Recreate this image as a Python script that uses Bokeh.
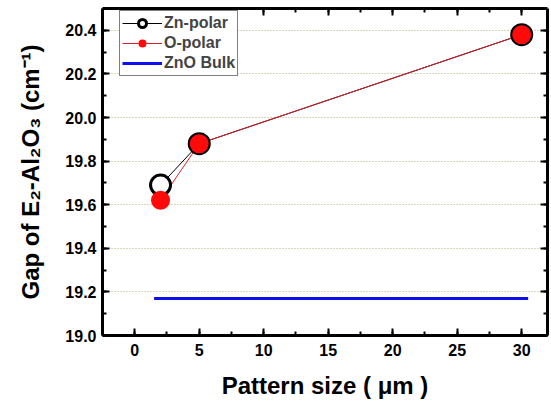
from bokeh.plotting import figure
from bokeh.models import (LinearAxis, SingleIntervalTicker, Range1d,
                          NumeralTickFormatter, CustomJSTickFormatter)
from bokeh.embed import file_html
from bokeh.resources import INLINE

# data
pattern_size = [2, 5, 30]
zn_polar = [19.69, 19.88, 20.38]
o_polar = [19.62, 19.88, 20.38]
bulk_x = [1.5, 30.5]
bulk_y = [19.17, 19.17]

FONT = "Liberation Sans"

p = figure(width=549, height=401, output_backend="svg", toolbar_location=None,
           x_range=Range1d(-2.5, 32.0), y_range=Range1d(19.0, 20.5),
           min_border_left=102, min_border_right=2, min_border_top=8, min_border_bottom=62,
           x_axis_label="Pattern size ( \u03bcm )",
           y_axis_label="Gap of E\u2082-Al\u2082O\u2083 (cm\u207b\u00b9)")
p.outline_line_color = None
p.background_fill_color = "white"
p.border_fill_color = "white"

p.xgrid.visible = False
p.ygrid.grid_line_color = "#b0b070"
p.ygrid.grid_line_dash = "1 2"
p.ygrid.grid_line_width = 1

xt = SingleIntervalTicker(interval=5, num_minor_ticks=2)
yt = SingleIntervalTicker(interval=0.2, num_minor_ticks=2)
p.xaxis.ticker = xt
p.yaxis.ticker = yt
p.ygrid.ticker = yt
p.yaxis.formatter = NumeralTickFormatter(format="0.0")

def style_axis(ax):
    ax.axis_line_width = 3
    ax.axis_line_color = "black"
    ax.major_tick_in = 7
    ax.major_tick_out = 0
    ax.minor_tick_in = 4
    ax.minor_tick_out = 0
    ax.major_tick_line_width = 2
    ax.minor_tick_line_width = 2
    ax.major_label_text_font = FONT
    ax.major_label_text_font_style = "bold"
    ax.major_label_text_font_size = "16px"
    ax.major_label_text_color = "black"
    ax.axis_label_text_font = FONT
    ax.axis_label_text_font_style = "bold"
    ax.axis_label_text_font_size = "24px"
    ax.axis_label_text_color = "black"

style_axis(p.xaxis[0])
style_axis(p.yaxis[0])
p.xaxis[0].major_label_standoff = 8
p.xaxis[0].axis_label_standoff = 13
p.yaxis[0].major_label_standoff = 6
p.yaxis[0].axis_label_standoff = 18

blank = CustomJSTickFormatter(code="return '';")
top = LinearAxis(ticker=SingleIntervalTicker(interval=5, num_minor_ticks=2), formatter=blank)
right = LinearAxis(ticker=SingleIntervalTicker(interval=0.2, num_minor_ticks=2), formatter=blank)
for ax in (top, right):
    style_axis(ax)
    ax.major_label_standoff = 0
p.add_layout(top, "above")
p.add_layout(right, "right")

# series
p.line(pattern_size, zn_polar, line_color="black", line_width=1, legend_label="Zn-polar")
p.line(pattern_size, o_polar, line_color="#d8202a", line_width=1, legend_label="O-polar")
p.scatter(pattern_size, zn_polar, marker="circle", size=20, fill_color="white",
          line_color="black", line_width=3, legend_label="Zn-polar")
p.scatter(pattern_size, o_polar, marker="circle", size=19, fill_color="#ff0a0a",
          line_color=None, legend_label="O-polar")
p.line(bulk_x, bulk_y, line_color="#1010ee", line_width=3, legend_label="ZnO Bulk")

leg = p.legend[0]
leg.location = (17, 259)
leg.border_line_color = "black"
leg.border_line_width = 1
leg.background_fill_alpha = 1
leg.label_text_font = FONT
leg.label_text_font_style = "bold"
leg.label_text_font_size = "16px"
leg.glyph_width = 40
leg.glyph_height = 20
leg.label_height = 20
leg.spacing = 0
leg.padding = 2
leg.margin = 0
leg.label_standoff = 2

open("out.html", "w").write(file_html(p, INLINE))
